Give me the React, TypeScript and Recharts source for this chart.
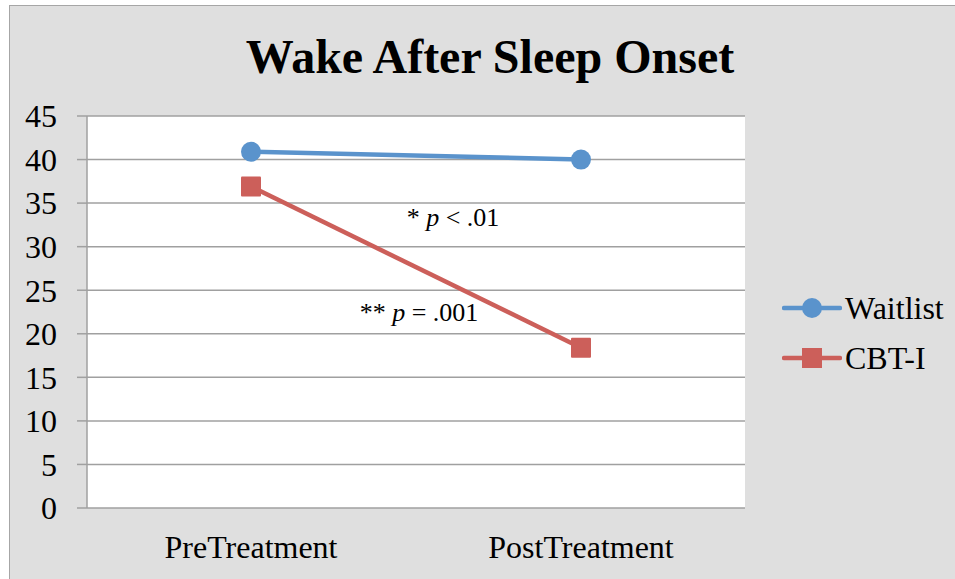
import { LineChart, Line, XAxis, YAxis, CartesianGrid } from "recharts"

const categories = ["PreTreatment", "PostTreatment"]
const waitlist = [40.9, 40.0]
const cbti = [36.9, 18.4]
const yTicks = [0, 5, 10, 15, 20, 25, 30, 35, 40, 45]
const bandTicks = [0, 1, 2]
const seriesNames = ["Waitlist", "CBT-I"]
const notes = ["* ", "p", " < .01", "** ", "p", " = .001"]

const data = categories.map((name, i) => ({ name, waitlist: waitlist[i], cbti: cbti[i] }))

const BLUE = "#5a93cc"
const RED = "#cc5f5a"
const GRID = "#a0a0a0"
const FONT = '"Liberation Serif", "Times New Roman", serif'

const SquareDot = (props: any) => {
  const { cx, cy } = props
  if (cx == null || cy == null) return null
  return <rect x={cx - 10} y={cy - 10} width={20} height={20} fill={RED} rx={1} />
}

const LegendIcon = ({ color, square }: { color: string; square?: boolean }) => (
  <svg width={60} height={24} style={{ display: "block" }}>
    <line x1={2} y1={12} x2={58} y2={12} stroke={color} strokeWidth={4.5} strokeLinecap="round" />
    {square ? (
      <rect x={20} y={2} width={20} height={20} fill={color} />
    ) : (
      <circle cx={30} cy={12} r={10} fill={color} />
    )}
  </svg>
)

export default function App() {
  return (
    <div
      style={{
        position: "absolute",
        left: 9,
        top: 5,
        width: 945,
        height: 573,
        background: "#dfdfdf",
        borderTop: "1px solid #a6a6a6",
        borderLeft: "1px solid #a6a6a6",
        fontFamily: FONT,
      }}
    >
      <div
        style={{
          position: "absolute",
          left: 180,
          width: 600,
          top: 27,
          textAlign: "center",
          fontSize: 48,
          lineHeight: "48px",
          fontWeight: "bold",
          color: "#000",
        }}
      >
        Wake After Sleep Onset
      </div>
      <LineChart width={945} height={573} data={data} margin={{ top: 110, right: 210, left: 0, bottom: 0 }}>
        <CartesianGrid xAxisId="cat" vertical={false} stroke={GRID} strokeWidth={1.5} fill="#ffffff" fillOpacity={1} />
        <XAxis
          xAxisId="band"
          type="number"
          domain={[0, 2]}
          ticks={bandTicks}
          tick={false}
          height={0}
          tickSize={9}
          axisLine={{ stroke: GRID, strokeWidth: 1.5 }}
          tickLine={{ stroke: GRID, strokeWidth: 1.5 }}
        />
        <XAxis
          xAxisId="cat"
          dataKey="name"
          type="category"
          interval={0}
          padding={{ left: 164, right: 164 }}
          axisLine={false}
          tickLine={false}
          tickSize={0}
          tickMargin={27}
          height={71}
          tick={{ fill: "#000", fontSize: 32, fontFamily: FONT }}
        />
        <YAxis
          domain={[0, 45]}
          ticks={yTicks}
          width={77}
          tickSize={10}
          tickMargin={20}
          interval={0}
          axisLine={{ stroke: GRID, strokeWidth: 1.5 }}
          tickLine={{ stroke: GRID, strokeWidth: 1.5 }}
          tick={{ fill: "#000", fontSize: 32, fontFamily: FONT }}
        />
        <Line
          xAxisId="cat"
          dataKey="waitlist"
          name={seriesNames[0]}
          stroke={BLUE}
          strokeWidth={4.5}
          dot={{ r: 10, fill: BLUE, stroke: BLUE, strokeWidth: 0 }}
          activeDot={false}
          isAnimationActive={false}
        />
        <Line
          xAxisId="cat"
          dataKey="cbti"
          name={seriesNames[1]}
          stroke={RED}
          strokeWidth={4.5}
          dot={<SquareDot />}
          activeDot={false}
          isAnimationActive={false}
        />
      </LineChart>
      <div style={{ position: "absolute", left: 343, width: 200, top: 199, textAlign: "center", fontSize: 26, lineHeight: "26px" }}>
        {notes[0]}
        <i>{notes[1]}</i>
        {notes[2]}
      </div>
      <div style={{ position: "absolute", left: 309, width: 200, top: 294, textAlign: "center", fontSize: 26, lineHeight: "26px" }}>
        {notes[3]}
        <i>{notes[4]}</i>
        {notes[5]}
      </div>
      {seriesNames.map((n, i) => (
        <div
          key={n}
          style={{
            position: "absolute",
            left: 772,
            top: 302 + i * 50 - 16,
            height: 32,
            display: "flex",
            alignItems: "center",
            fontSize: 32,
            lineHeight: "32px",
          }}
        >
          <LegendIcon color={i === 0 ? BLUE : RED} square={i === 1} />
          <span style={{ marginLeft: 3 }}>{n}</span>
        </div>
      ))}
    </div>
  )
}
